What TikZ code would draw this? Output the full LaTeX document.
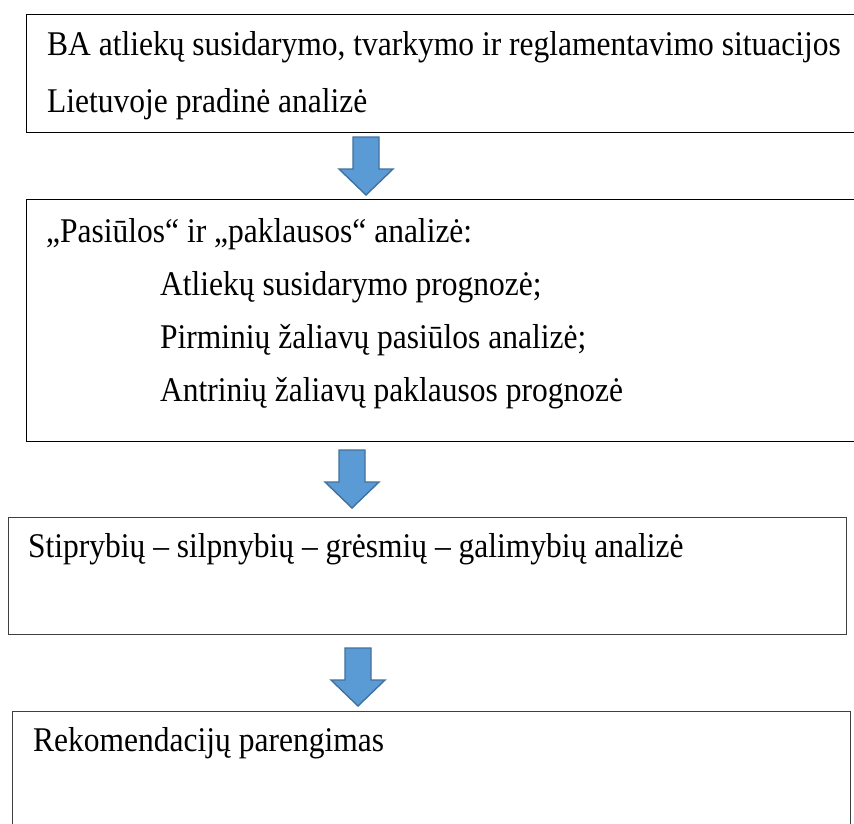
\documentclass[tikz,border=0pt]{standalone}
\usepackage{fontspec}
\setmainfont{Liberation Serif}
\definecolor{arrowfill}{HTML}{5B9BD5}
\definecolor{arrowline}{HTML}{41719C}
\newcommand{\tallText}[1]{\scalebox{1}[1.1]{#1}}
\begin{document}
\begin{tikzpicture}[x=1pt,y=-1pt,
  boxA/.style={draw=black,line width=1.1pt,inner sep=0pt,anchor=north west},
  boxB/.style={draw=black!75,line width=1.4pt,inner sep=0pt,anchor=north west},
  txt/.style={anchor=base west,inner sep=0pt,font=\fontsize{31.5}{38}\selectfont},
  blockarrow/.pic={\draw[fill=arrowfill,draw=arrowline,line width=1.4pt,line join=miter]
     (-13,0) -- (13,0) -- (13,32) -- (27,32) -- (0,58) -- (-27,32) -- (-13,32) -- cycle;}]
\useasboundingbox (0,0) rectangle (854,823);
\fill[white] (0,0) rectangle (854,823);
% boxes
\node[boxA,minimum width=844pt,minimum height=118pt] (b1) at (26,14) {};
\node[boxA,minimum width=844pt,minimum height=242pt] (b2) at (26,199) {};
\node[boxB,minimum width=838pt,minimum height=117pt] (b3) at (8,517) {};
\node[boxB,minimum width=838pt,minimum height=130pt] (b4) at (12,711) {};
% texts
\node[txt] (t11) at (47,55) {\tallText{BA atliekų susidarymo, tvarkymo ir reglamentavimo situacijos}};
\node[txt] (t12) at (47,112) {\tallText{Lietuvoje pradinė analizė}};
\node[txt] (t21) at (46,242) {\tallText{„Pasiūlos“ ir „paklausos“ analizė:}};
\node[txt] (t22) at (160,295) {\tallText{Atliekų susidarymo prognozė;}};
\node[txt] (t23) at (160,348) {\tallText{Pirminių žaliavų pasiūlos analizė;}};
\node[txt] (t24) at (160,401) {\tallText{Antrinių žaliavų paklausos prognozė}};
\node[txt] (t31) at (28,557) {\tallText{Stiprybių – silpnybių – grėsmių – galimybių analizė}};
\node[txt] (t41) at (33,751) {\tallText{Rekomendacijų parengimas}};
% block arrows
\pic at (366,137) {blockarrow};
\pic at (352,450) {blockarrow};
\pic at (358,648) {blockarrow};
\end{tikzpicture}
\end{document}
